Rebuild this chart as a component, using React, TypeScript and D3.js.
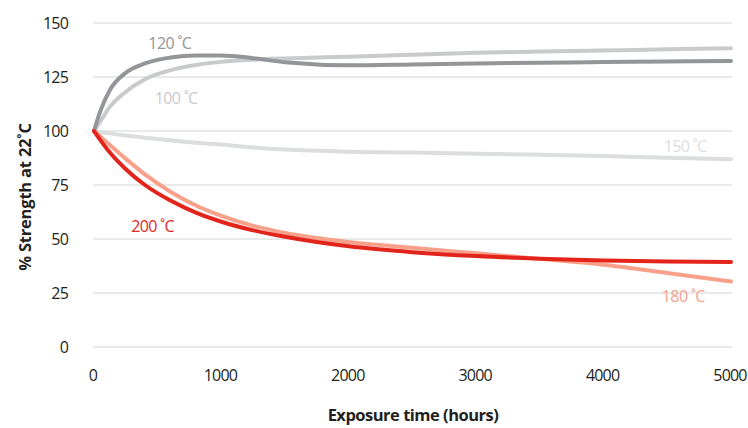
import React from "react";
import * as d3 from "d3";

const hours = [0, 50, 125, 250, 400, 600, 800, 1000, 1250, 1500, 2000, 2500, 3000, 3500, 4000, 4500, 5000];
const s120 = [100, 109.3, 119, 127, 131.3, 134, 135, 135, 133.7, 131.8, 130.4, 130.8, 131.3, 131.6, 131.9, 132.2, 132.4];
const s100 = [100, 104.5, 111.2, 118.2, 124, 128.2, 130.6, 132, 133, 133.6, 134.4, 135.3, 136.2, 136.8, 137.3, 137.8, 138.3];
const s150 = [100, 99.5, 98.9, 97.9, 96.9, 95.7, 94.6, 93.7, 92.4, 91.4, 90.4, 90, 89.5, 89, 88.4, 87.6, 86.9];
const s180 = [100, 97.4, 93.5, 87.1, 79.9, 71.9, 65.5, 60.7, 56.1, 52.8, 48.6, 45.9, 43.4, 40.8, 38.1, 34.3, 30.3];
const s200 = [100, 95.8, 90, 82.3, 75, 67.8, 62.2, 58, 54, 51, 46.6, 43.9, 42.1, 40.9, 40.1, 39.6, 39.4];

const seriesNames = ["100 ˚C", "120 ˚C", "150 ˚C", "200 ˚C", "180 ˚C"];
const seriesColors = ["#c9cacc", "#939598", "#dcddde", "#e3241b", "#f9a08a"];
const seriesValues = [s100, s120, s150, s200, s180];
// label anchor positions in data units (hours, %)
const labelHours = [645, 595, 4640, 460, 4625];
const labelValues = [112.5, 138, 90.3, 53.2, 20.8];

const yTicks = [0, 25, 50, 75, 100, 125, 150];
const xTicks = [0, 1000, 2000, 3000, 4000, 5000];

export default function App() {
  const W = 748, H = 428;
  const x = d3.scaleLinear().domain([0, 5000]).range([94, 731]);
  const y = d3.scaleLinear().domain([0, 150]).range([347, 23]);
  const line = d3
    .line<[number, number]>()
    .x((d) => x(d[0]))
    .y((d) => y(d[1]))
    .curve(d3.curveMonotoneX);
  const font = "'Open Sans', sans-serif";
  const drawOrder = [2, 0, 1, 4, 3];
  return (
    <svg
      width={W}
      height={H}
      style={{ position: "absolute", left: 0, top: 0, background: "#fff" }}
      fontFamily={font}
    >
      {yTicks.map((t) => (
        <g key={t}>
          <line x1={93} x2={732} y1={y(t)} y2={y(t)} stroke="#d2d3d4" strokeWidth={1.2} />
          <text
            x={68}
            y={y(t)}
            dy="0.35em"
            textAnchor="end"
            fontSize={16}
            letterSpacing={-0.8}
            fill="#231f20"
          >
            {t}
          </text>
        </g>
      ))}
      {xTicks.map((t) => (
        <text
          key={t}
          x={x(t) - 1}
          y={381}
          textAnchor="middle"
          fontSize={16}
          letterSpacing={-0.8}
          fill="#231f20"
        >
          {t}
        </text>
      ))}
      {drawOrder.map((i) => (
        <path
          key={i}
          d={line(hours.map((h, j) => [h, seriesValues[i][j]]) as [number, number][]) || ""}
          fill="none"
          stroke={seriesColors[i]}
          strokeWidth={4}
          strokeLinecap="round"
        />
      ))}
      {seriesNames.map((n, i) => (
        <text
          key={n}
          x={x(labelHours[i])}
          y={y(labelValues[i])}
          textAnchor="middle"
          fontSize={16}
          letterSpacing={-0.6}
          fill={seriesColors[i]}
        >
          {n}
        </text>
      ))}
      <text
        x={413}
        y={421}
        textAnchor="middle"
        fontSize={16.5}
        fontWeight={700}
        letterSpacing={-0.5}
        fill="#231f20"
      >
        Exposure time (hours)
      </text>
      <text
        transform={`translate(31,197) rotate(-90)`}
        textAnchor="middle"
        fontSize={16.5}
        fontWeight={700}
        letterSpacing={-0.2}
        fill="#231f20"
      >
        % Strength at 22˚C
      </text>
    </svg>
  );
}
